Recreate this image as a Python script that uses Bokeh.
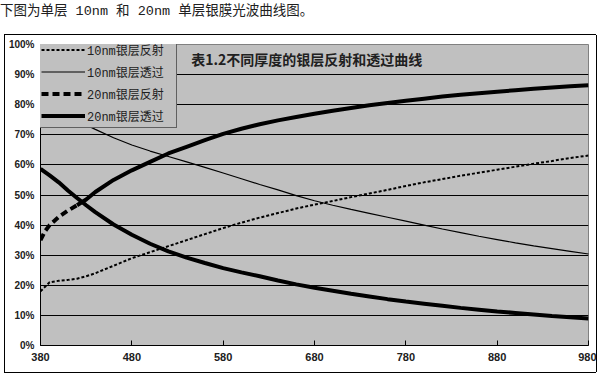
from bokeh.plotting import figure
from bokeh.models import Range1d, FixedTicker, Legend, LegendItem, Label, Div
from bokeh.layouts import column, row
from bokeh.embed import file_html
from bokeh.resources import INLINE

# ---- data ----
WL = [380, 385, 390, 400, 410, 420, 430, 440, 460, 480, 500, 520, 540, 560, 580, 600,
      620, 640, 660, 680, 700, 720, 740, 760, 780, 800, 820, 840, 860, 880, 900, 920,
      940, 960, 980]
R10 = [18.0, 19.5, 21.0, 21.5, 21.8, 22.2, 23.0, 24.0, 26.5, 29.0, 31.0, 33.0, 35.0, 37.0,
       39.0, 40.8, 42.5, 44.0, 45.5, 46.8, 48.0, 49.3, 50.5, 51.7, 53.0, 54.2, 55.3, 56.4,
       57.4, 58.4, 59.4, 60.4, 61.3, 62.3, 63.1]
T10 = [80.0, 78.0, 77.0, 75.8, 75.2, 74.5, 73.3, 71.8, 69.0, 66.6, 64.6, 62.8, 61.0, 59.2,
       57.3, 55.4, 53.5, 51.7, 49.8, 48.1, 46.6, 45.2, 43.9, 42.6, 41.3, 40.0, 38.7, 37.5,
       36.3, 35.2, 34.1, 33.1, 32.2, 31.3, 30.4]
R20 = [35.0, 38.0, 40.0, 42.7, 44.8, 46.6, 48.5, 51.0, 55.0, 58.2, 61.0, 63.8, 66.0, 68.2,
       70.3, 72.0, 73.5, 74.8, 75.9, 77.0, 78.0, 78.9, 79.8, 80.6, 81.3, 82.0, 82.7, 83.3,
       83.8, 84.3, 84.8, 85.3, 85.7, 86.1, 86.5]
T20 = [58.7, 57.6, 56.5, 54.2, 51.5, 49.0, 46.6, 44.3, 40.2, 36.8, 33.8, 31.3, 29.2, 27.4,
       25.7, 24.3, 23.0, 21.6, 20.3, 19.2, 18.2, 17.2, 16.3, 15.4, 14.6, 13.9, 13.2, 12.5,
       11.9, 11.3, 10.8, 10.3, 9.8, 9.4, 9.0]
SERIES_NAMES = ["10nm银层反射", "10nm银层透过", "20nm银层反射", "20nm银层透过"]
X_TICKS = [380, 480, 580, 680, 780, 880, 980]
Y_TICKS = [0, 10, 20, 30, 40, 50, 60, 70, 80, 90, 100]
Y_LABELS = ["0%", "10%", "20%", "30%", "40%", "50%", "60%", "70%", "80%", "90%", "100%"]
CHART_TITLE = "表1.2不同厚度的银层反射和透过曲线"
CAPTION = "下图为单层 10nm 和 20nm 单层银膜光波曲线图。"

CJK = "Noto Sans CJK SC"
MIXED = "'Liberation Mono', 'Noto Sans CJK SC'"

caption = Div(text=CAPTION, width=596, height=34, margin=0,
              styles={"font-family": MIXED, "font-size": "13.5px", "line-height": "24px",
                      "color": "#202020", "white-space": "nowrap",
                      "margin": "0", "padding": "0"})


def edge(w, h):
    return Div(text="", width=w, height=h, margin=0,
               styles={"background-color": "black", "margin": "0", "padding": "0"})


p = figure(frame_width=548, frame_height=301, output_backend="svg", toolbar_location=None,
           x_range=Range1d(380, 980), y_range=Range1d(0, 100),
           min_border_left=34, min_border_right=8, min_border_top=9, min_border_bottom=27)
p.margin = 0
p.background_fill_color = "#c0c0c0"
p.border_fill_color = "white"
p.outline_line_color = "#808080"
p.outline_line_width = 1

p.xgrid.visible = False
p.ygrid.ticker = FixedTicker(ticks=Y_TICKS[1:-1])
p.ygrid.grid_line_color = "black"
p.ygrid.grid_line_width = 1

p.yaxis.ticker = FixedTicker(ticks=Y_TICKS)
p.yaxis.major_label_overrides = dict(zip(Y_TICKS, Y_LABELS))
p.yaxis.major_tick_line_color = None
p.yaxis.major_tick_out = 0
p.yaxis.major_tick_in = 0
p.yaxis.minor_tick_line_color = None
p.yaxis.minor_tick_out = 0
p.yaxis.minor_tick_in = 0
p.yaxis.axis_line_color = "black"
p.yaxis.major_label_standoff = 6
p.yaxis.major_label_text_font = "Liberation Sans"
p.yaxis.major_label_text_font_style = "bold"
p.yaxis.major_label_text_font_size = "10px"
p.yaxis.major_label_text_color = "#202020"

p.xaxis.ticker = FixedTicker(ticks=X_TICKS)
p.xaxis.major_tick_in = 5
p.xaxis.major_tick_out = 0
p.xaxis.minor_tick_line_color = None
p.xaxis.minor_tick_out = 0
p.xaxis.minor_tick_in = 0
p.xaxis.axis_line_color = "black"
p.xaxis.major_label_standoff = 7
p.xaxis.major_label_text_font = "Liberation Sans"
p.xaxis.major_label_text_font_style = "bold"
p.xaxis.major_label_text_font_size = "11px"
p.xaxis.major_label_text_color = "#202020"

r_t10 = p.line(WL, T10, line_color="black", line_width=1.2, level="overlay")
r_r10 = p.line(WL, R10, line_color="black", line_width=2, line_dash="3 2")
r_t20 = p.line(WL, T20, line_color="black", line_width=4)
r_r20a = p.line(WL[:6], R20[:6], line_color="black", line_width=4, line_dash="7 4")
r_r20b = p.line(WL[5:], R20[5:], line_color="black", line_width=4)

legend = Legend(items=[
    LegendItem(label=SERIES_NAMES[0], renderers=[r_r10]),
    LegendItem(label=SERIES_NAMES[1], renderers=[r_t10]),
    LegendItem(label=SERIES_NAMES[2], renderers=[r_r20a]),
    LegendItem(label=SERIES_NAMES[3], renderers=[r_t20]),
], location=(-1, 217))
legend.padding = 1
legend.margin = 0
legend.spacing = 1
legend.glyph_width = 44
legend.glyph_height = 21
legend.label_height = 21
legend.label_width = 88
legend.label_standoff = 2
legend.label_text_font = MIXED
legend.label_text_font_size = "12px"
legend.label_text_color = "#202020"
legend.border_line_color = "black"
legend.border_line_width = 1
legend.background_fill_color = "#c0c0c0"
legend.background_fill_alpha = 1
p.add_layout(legend)

p.add_layout(Label(x=545, y=95.3, text=CHART_TITLE, text_font=CJK, text_font_size="14px",
                   text_font_style="bold", text_baseline="middle", text_color="#202020"))

boxed = column(edge(592, 1),
               row(edge(1, 337), p, edge(1, 337), spacing=0, margin=0),
               edge(592, 1),
               spacing=0, margin=(0, 0, 0, 4))
layout = column(caption, boxed, spacing=0, margin=0)
open("out.html", "w").write(file_html(layout, INLINE))
